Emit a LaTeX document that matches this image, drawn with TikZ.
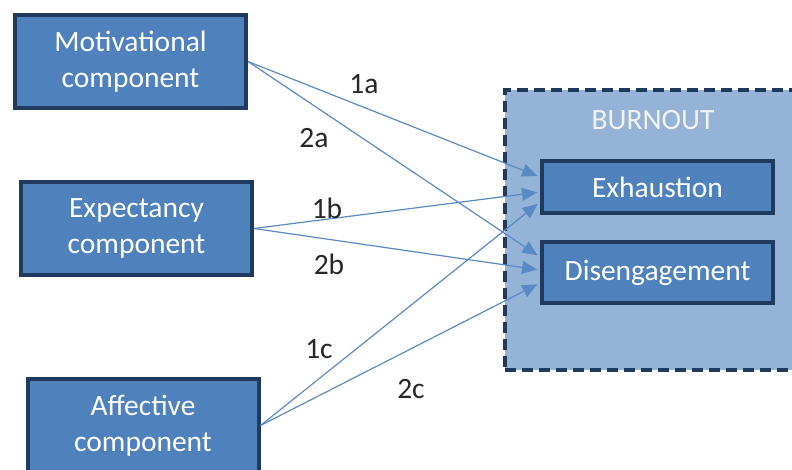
\documentclass[tikz,border=0pt]{standalone}
\usepackage{fontspec}
\setmainfont{Carlito}
\usetikzlibrary{arrows.meta}

\definecolor{boxblue}{HTML}{4F81BD}
\definecolor{boxline}{HTML}{1F3A5C}
\definecolor{burnblue}{HTML}{95B3D7}
\definecolor{arrowblue}{HTML}{5A8AC6}

\tikzset{
	compbox/.style={draw=boxline, line width=4pt, fill=boxblue, text=white,
		minimum width=231pt, align=center, font=\fontsize{29.5}{36.5}\selectfont},
	path/.style={draw=arrowblue, line width=1.2pt, shorten >=3pt,
		-{Triangle[length=15pt, width=13pt]}},
	pathlabel/.style={text=black!85, font=\fontsize{29.5}{34}\selectfont}
}

\begin{document}
\begin{tikzpicture}[x=1pt, y=-1pt]
		\useasboundingbox ( 0, 0 ) rectangle ( 792, 470 );
		\clip ( 0, 0 ) rectangle ( 792, 470 );

		% выгорание
		\node [draw=boxline, line width=4pt, dash pattern=on 11pt off 6pt, fill=burnblue,
			minimum width=305pt, minimum height=280pt] (burnout) at ( 657.5, 230 ) {};
		\node [text=white!95!black, font=\fontsize{29.5}{34}\selectfont] (burnouttitle) at ( 653, 120 ) {BURNOUT};

		% компоненты
		\node [compbox, minimum height=93pt] (motiv) at ( 130.5, 61.5 ) {Motivational\\component};
		\node [compbox, minimum height=93pt] (expect) at ( 136.5, 228.5 ) {Expectancy\\component};
		\node [compbox, minimum height=93pt] (affect) at ( 143, 425.5 ) {Affective\\component};

		% результаты
		\node [compbox, minimum height=52pt] (exh) at ( 657.5, 187 ) {Exhaustion};
		\node [compbox, minimum height=61pt] (dis) at ( 657.5, 272.5 ) {Disengagement};

		% связи
		\draw [path] (motiv.east) -- ([yshift=10pt]exh.west);
		\draw [path] (expect.east) -- ([yshift=-5pt]exh.west);
		\draw [path] (affect.east) -- ([yshift=-15pt]exh.west);
		\draw [path] (motiv.east) -- ([yshift=15.5pt]dis.west);
		\draw [path] (expect.east) -- ([yshift=2.5pt]dis.west);
		\draw [path] (affect.east) -- ([yshift=-10.5pt]dis.west);

		% подписи
		\node [pathlabel] (l1a) at ( 364, 84 ) {1a};
		\node [pathlabel] (l2a) at ( 314, 138 ) {2a};
		\node [pathlabel] (l1b) at ( 327, 208 ) {1b};
		\node [pathlabel] (l2b) at ( 329, 264 ) {2b};
		\node [pathlabel] (l1c) at ( 319, 349 ) {1c};
		\node [pathlabel] (l2c) at ( 411, 389 ) {2c};
	\end{tikzpicture}
\end{document}
